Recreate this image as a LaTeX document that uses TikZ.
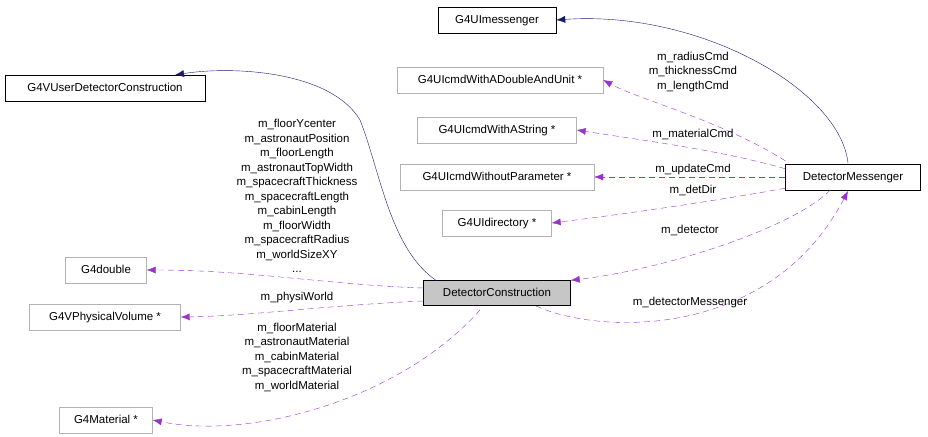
\documentclass[tikz,border=0pt]{standalone}
\usepackage{fontspec}
\setmainfont{Liberation Sans}
\usetikzlibrary{arrows.meta}
\definecolor{dpurple}{RGB}{153,50,204}
\definecolor{dblue}{RGB}{25,25,112}
\begin{document}
\begin{tikzpicture}[x=1pt,y=-1pt,
  font=\fontsize{11.5}{14.5}\selectfont,
  box/.style={draw=black,fill=white,minimum height=26pt,inner xsep=6pt,text height=9pt,text depth=2.5pt},
  gbox/.style={box,draw=gray!60},
  inh/.style={draw=dblue,-{Latex[length=9pt,width=7pt]}},
  use/.style={draw=dpurple,dash pattern=on 6pt off 4pt,-{Latex[length=9pt,width=7pt]}},
  lab/.style={align=center,inner sep=0pt}]
\useasboundingbox (0,0) rectangle (928,436);
\node[box,minimum width=118pt] (uim) at (497,20) {G4UImessenger};
\node[box,minimum width=200pt] (vudc) at (105,88) {G4VUserDetectorConstruction};
\node[gbox,minimum width=206pt] (dau) at (500,80) {G4UIcmdWithADoubleAndUnit *};
\node[gbox,minimum width=159pt] (as) at (497,130) {G4UIcmdWithAString *};
\node[gbox,minimum width=194pt] (wp) at (497,177) {G4UIcmdWithoutParameter *};
\node[gbox,minimum width=109pt] (dir) at (497,223) {G4UIdirectory *};
\node[box,minimum width=135pt] (dm) at (853,177) {DetectorMessenger};
\node[gbox,minimum width=81pt] (dbl) at (106,270) {G4double};
\node[box,fill=gray!45,minimum width=147pt,minimum height=25pt] (dc) at (497,293) {DetectorConstruction};
\node[gbox,minimum width=151pt] (pv) at (105,317) {G4VPhysicalVolume *};
\node[gbox,minimum width=93pt] (mat) at (106,420) {G4Material *};

\coordinate (dmtop) at (848,163);
\draw[inh] (dmtop) .. controls (840,90) and (700,10) .. (uim.east);
\coordinate (dctop) at (437,281);
\draw[inh] (dctop) .. controls (390,250) and (380,170) .. (360,120) .. controls (330,70) and (230,66) .. (175,75);

\draw[use] (dm.north west) ++(0,-3) .. controls (720,120) and (640,100) .. (dau.east);
\node[lab] (l1) at (693,72) {m\_radiusCmd\\m\_thicknessCmd\\m\_lengthCmd};
\draw[use] (dm.north west) ++(0,5) .. controls (720,150) and (640,140) .. (as.east);
\node[lab] (l2) at (693,134) {m\_materialCmd};
\draw[use] (dm.west) -- (wp.east);
\node[lab] (l3) at (693,170) {m\_updateCmd};
\draw[use] (dm.south west) ++(0,-2) .. controls (720,200) and (640,212) .. (dir.east);
\node[lab] (l4) at (693,190) {m\_detDir};
\draw[use] (dm.south west) ++(45,0) .. controls (790,230) and (660,270) .. (dc.north east);
\node[lab] (l5) at (690,230) {m\_detector};
\draw[use] (536,306) .. controls (600,335) and (770,340) .. (848,191);
\node[lab] (l6) at (690,303) {m\_detectorMessenger};

\draw[use] (dc.west) ++(0,-5) .. controls (330,285) and (250,270) .. (dbl.east);
\node[lab] (l7) at (297,196) {m\_floorYcenter\\m\_astronautPosition\\m\_floorLength\\m\_astronautTopWidth\\m\_spacecraftThickness\\m\_spacecraftLength\\m\_cabinLength\\m\_floorWidth\\m\_spacecraftRadius\\m\_worldSizeXY\\...};
\draw[use] (dc.west) ++(0,8) .. controls (330,305) and (250,316) .. (pv.east);
\node[lab] (l8) at (297,298) {m\_physiWorld};
\draw[use] (480,310) .. controls (400,400) and (250,440) .. (mat.east);
\node[lab] (l9) at (297,357) {m\_floorMaterial\\m\_astronautMaterial\\m\_cabinMaterial\\m\_spacecraftMaterial\\m\_worldMaterial};
\end{tikzpicture}
\end{document}
